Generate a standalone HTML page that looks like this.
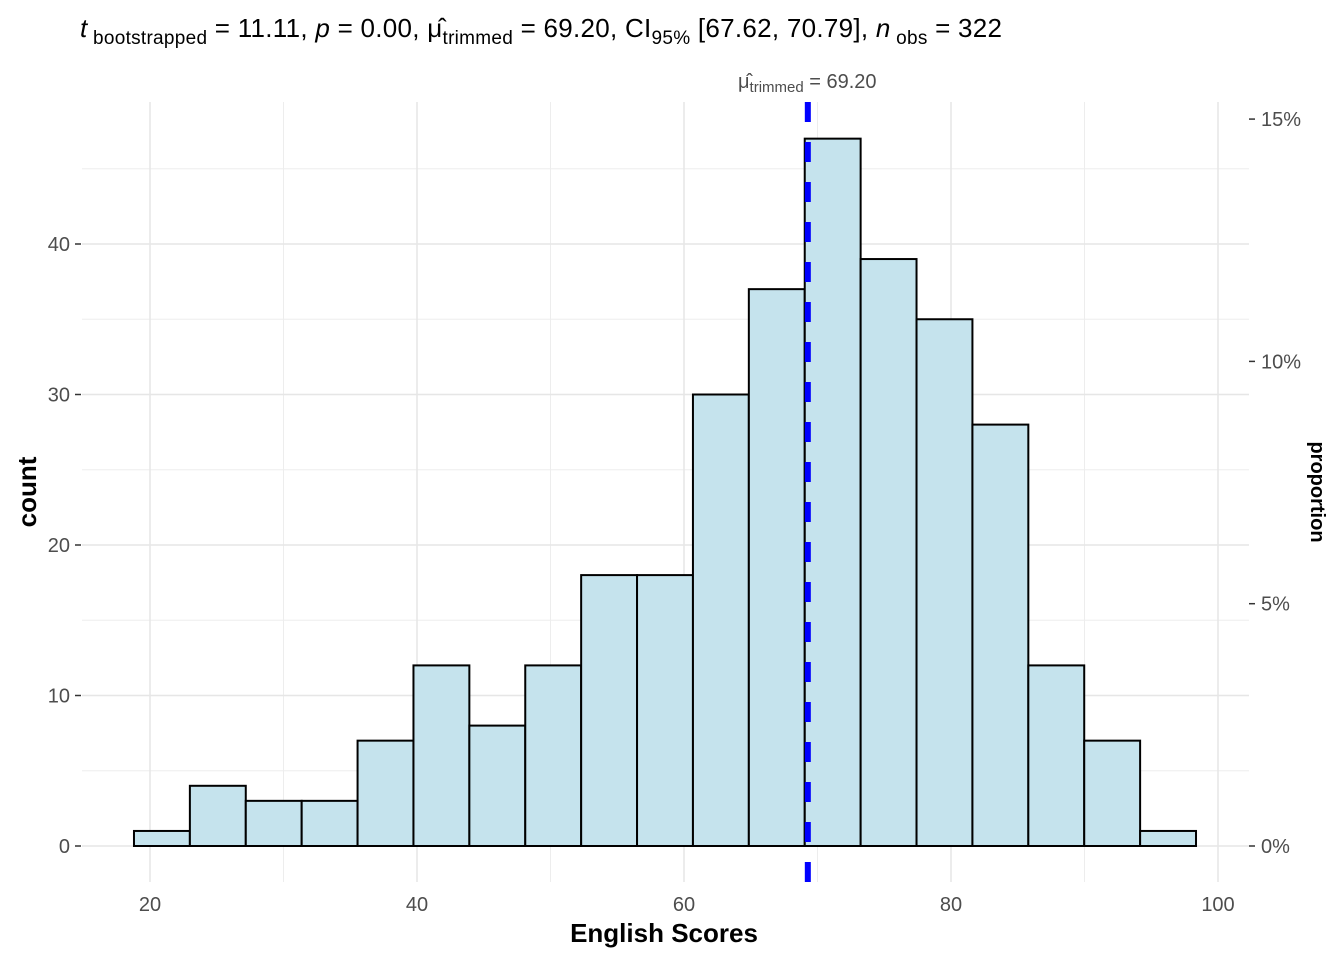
<!DOCTYPE html>
<html><head><meta charset="utf-8"><style>
body{margin:0;background:#fff;font-family:"Liberation Sans",sans-serif;}
svg text{font-family:"Liberation Sans",sans-serif;}
</style></head><body>
<svg width="1344" height="960">
<text x="80" y="37" font-size="26" fill="#000" textLength="922" lengthAdjust="spacing"><tspan font-style="italic">t</tspan><tspan font-size="19" dy="7"> bootstrapped</tspan><tspan dy="-7"> = 11.11, </tspan><tspan font-style="italic">p</tspan><tspan> = 0.00, μ̂</tspan><tspan font-size="19" dy="7">trimmed</tspan><tspan dy="-7"> = 69.20, CI</tspan><tspan font-size="19" dy="7">95%</tspan><tspan dy="-7"> [67.62, 70.79], </tspan><tspan font-style="italic">n</tspan><tspan font-size="19" dy="7"> obs</tspan><tspan dy="-7"> = 322</tspan></text>
<g id="grid"></g>
<g id="bars"></g>
<g id="axes"></g>
<text x="738" y="88" font-size="20" fill="#4d4d4d">μ̂<tspan font-size="15" dy="4">trimmed</tspan><tspan dy="-4"> = 69.20</tspan></text>
<text x="664" y="942" font-size="26" font-weight="bold" text-anchor="middle">English Scores</text>
<text transform="translate(36,492) rotate(-90)" font-size="26" font-weight="bold" text-anchor="middle">count</text>
<text transform="translate(1311,492) rotate(90)" font-size="20" font-weight="bold" text-anchor="middle">proportion</text>
</svg>
<script>
const counts=[1,4,3,3,7,12,8,12,18,18,30,37,47,39,35,28,12,7,1];
const binStart=18.8, binWidth=4.187;
const xTicks=[20,40,60,80,100];
const xMinor=[30,50,70,90];
const yTicks=[0,10,20,30,40];
const yMinor=[5,15,25,35,45];
const pTicks=[0,5,10,15];
const meanVal=69.20;
const total=322;
const NS="http://www.w3.org/2000/svg";
const X=v=>150+(v-20)*13.35;
const Y=c=>846-c*15.05;
const L=82,R=1249,T=102,B=882;
function mk(tag,attrs,parent){const e=document.createElementNS(NS,tag);for(const k in attrs)e.setAttribute(k,attrs[k]);document.getElementById(parent).appendChild(e);return e;}
xMinor.forEach(v=>{const e=mk('line',{x1:X(v),x2:X(v),y1:T,y2:B,stroke:'#ededed','stroke-width':1},'grid');

});
yMinor.forEach(v=>{const e=mk('line',{x1:L,x2:R,y1:Y(v),y2:Y(v),stroke:'#ededed','stroke-width':1},'grid');

});
xTicks.forEach(v=>{const e=mk('line',{x1:X(v),x2:X(v),y1:T,y2:B,stroke:'#e6e6e6','stroke-width':1.5},'grid');


const t=mk('text',{x:X(v),y:911,'font-size':20,fill:'#4d4d4d','text-anchor':'middle'},'axes');t.textContent=v;

});
yTicks.forEach(v=>{const e=mk('line',{x1:L,x2:R,y1:Y(v),y2:Y(v),stroke:'#e6e6e6','stroke-width':1.5},'grid');


const tk=mk('line',{x1:75,x2:81,y1:Y(v),y2:Y(v),stroke:'#333','stroke-width':1.5},'axes');


const t=mk('text',{x:70,y:Y(v)+7,'font-size':20,fill:'#4d4d4d','text-anchor':'end'},'axes');t.textContent=v;

});
pTicks.forEach(p=>{const y=Y(p/100*total);
const tk=mk('line',{x1:1249,x2:1255,y1:y,y2:y,stroke:'#333','stroke-width':1.5},'axes');


const t=mk('text',{x:1261,y:y+7,'font-size':20,fill:'#4d4d4d'},'axes');t.textContent=p+'%';

});
counts.forEach((c,i)=>{const x0=X(binStart+i*binWidth),x1=X(binStart+(i+1)*binWidth);
const r=mk('rect',{x:x0,y:Y(c),width:x1-x0,height:Y(0)-Y(c),fill:'#c5e3ed',stroke:'#000','stroke-width':2},'bars');

});
const ml=mk('line',{x1:X(meanVal)+1,x2:X(meanVal)+1,y1:T,y2:B,stroke:'#0000ff','stroke-width':6,'stroke-dasharray':'20 20'},'bars');


</script>
</body></html>
